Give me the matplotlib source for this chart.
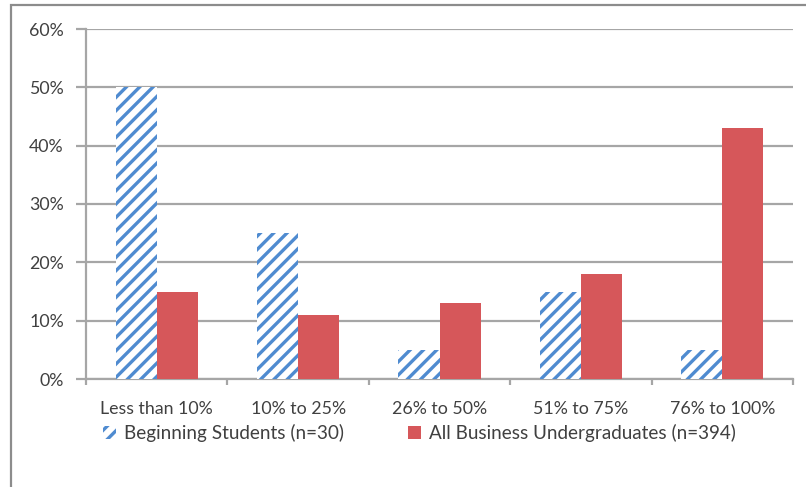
import matplotlib
matplotlib.use('Agg')
import matplotlib.pyplot as plt
import numpy as np
from matplotlib.patches import Rectangle
from matplotlib.ticker import FuncFormatter, FixedLocator

# --- donnees ---
categories = ['Less than 10%', '10% to 25%', '26% to 50%', '51% to 75%', '76% to 100%']
beginning = [50, 25, 5, 15, 5]
all_business = [15, 11, 13, 18, 43]
y_ticks = [0, 10, 20, 30, 40, 50, 60]

label_beginning = 'Beginning Students (n=30)'
label_all = 'All Business Undergraduates (n=394)'

BLUE = '#4F8BD0'
RED = '#D6575A'
GRID = '#A6A6A6'
TEXT = '#404040'

DPI = 160
plt.rcParams['font.family'] = ['Lato', 'DejaVu Sans']
plt.rcParams['hatch.linewidth'] = 1.5
plt.rcParams['hatch.color'] = BLUE

fig = plt.figure(figsize=(806 / DPI, 487 / DPI), dpi=DPI)
ax = fig.add_axes([86 / 806, 1 - 379 / 487, (793 - 86) / 806, (379 - 29) / 487])

x = np.arange(len(categories))
w = 0.29
ax.bar(x - w / 2, beginning, w, facecolor='white', edgecolor=BLUE, hatch='////',
       linewidth=0, label=label_beginning, zorder=3)
ax.bar(x + w / 2, all_business, w, color=RED, linewidth=0,
       label=label_all, zorder=3)

ax.set_xlim(-0.5, len(categories) - 0.5)
ax.set_ylim(0, 60)
ax.set_yticks(y_ticks)
ax.yaxis.set_major_formatter(FuncFormatter(lambda v, p: f'{v:.0f}%'))
ax.grid(axis='y', color=GRID, linewidth=1.0, zorder=0)

ax.set_xticks(x)
ax.set_xticklabels(categories)
ax.xaxis.set_minor_locator(FixedLocator(np.arange(-0.5, len(categories), 1.0)))
ax.tick_params(axis='x', which='major', length=0, pad=10, labelsize=8, labelcolor=TEXT)
ax.tick_params(axis='x', which='minor', length=2.5, width=1.0, color=GRID)
ax.tick_params(axis='y', length=4.5, width=1.0, color=GRID, pad=5.5,
               labelsize=8, labelcolor=TEXT)

for s in ['top', 'right']:
    ax.spines[s].set_visible(False)
for s in ['left', 'bottom']:
    ax.spines[s].set_color(GRID)
    ax.spines[s].set_linewidth(1.0)

leg = fig.legend(loc='center', bbox_to_anchor=(0.52, 1 - 433 / 487), ncol=2,
                 frameon=False, fontsize=8.5, handlelength=0.7, handleheight=0.7,
                 handletextpad=0.4, columnspacing=3.4)
for t in leg.get_texts():
    t.set_color(TEXT)

# cadre du graphique (coupe a droite et en bas)
fig.patches.append(Rectangle((11 / 806, -0.1), 1.2, 1 - 5 / 487 + 0.1,
                             transform=fig.transFigure, fill=False,
                             edgecolor='#8C8C8C', linewidth=1.0))

fig.savefig('out.png', dpi=DPI, facecolor='white')
